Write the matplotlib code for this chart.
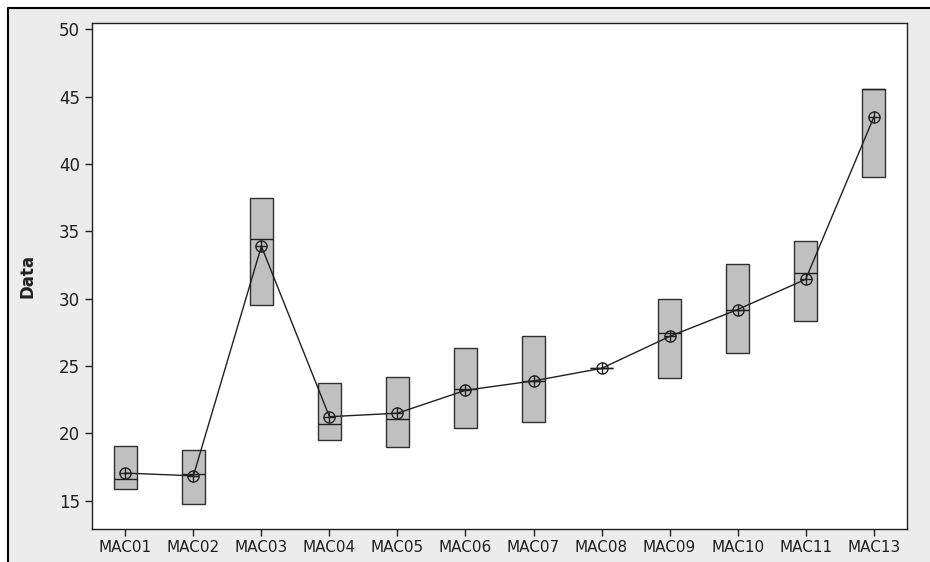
#!/usr/bin/env python3
"""Minitab-style boxplot of the MAC groups with connected means."""

import matplotlib

matplotlib.use("Agg")
import matplotlib.pyplot as plt
from matplotlib.lines import Line2D
from matplotlib.patches import Rectangle

groups = ["MAC01", "MAC02", "MAC03", "MAC04", "MAC05", "MAC06",
          "MAC07", "MAC08", "MAC09", "MAC10", "MAC11", "MAC13"]
q1 = [15.9, 14.75, 29.5, 19.5, 19.0, 20.37, 20.87, 24.83, 24.13, 26.0, 28.36, 39.05]
q3 = [19.06, 18.76, 37.5, 23.76, 24.2, 26.36, 27.25, 24.83, 29.97, 32.6, 34.28, 45.6]
medians = [16.6, 17.0, 34.4, 20.67, 21.1, 23.27, 23.9, 24.83, 27.47, 29.2, 31.88, 45.6]
means = [17.05, 16.85, 33.9, 21.24, 21.5, 23.2, 23.9, 24.83, 27.2, 29.2, 31.44, 43.46]

W, H = 930, 562
fig = plt.figure(figsize=(W / 100, H / 100), dpi=100)
fig.patch.set_facecolor("white")

# grey frame with a black border on the top and left (image is cropped)
fig.patches.append(Rectangle((8 / W, 0), 1, 1 - 8 / H, transform=fig.transFigure,
                             facecolor="#ececec", edgecolor="none", zorder=-10))
fig.lines.append(Line2D([8 / W, 8 / W, 1], [0, 1 - 8 / H, 1 - 8 / H],
                        transform=fig.transFigure, color="black", lw=1.5))

ax = fig.add_axes([92 / W, 33 / H, (907 - 92) / W, (529 - 22.7) / H])
ax.set_facecolor("white")

x = list(range(len(groups)))
heights = [b - a for a, b in zip(q1, q3)]
bw = 0.33
ax.bar(x, heights, bottom=q1, width=bw, color="#c0c0c0",
       edgecolor="#303030", linewidth=1.0, zorder=2)
ax.hlines(medians, [i - bw / 2 for i in x], [i + bw / 2 for i in x],
          color="#202020", linewidth=1.0, zorder=3)

ax.plot(x, means, color="#202020", linewidth=1.0, zorder=4)
ax.plot(x, means, linestyle="none", marker="o", ms=8, mfc="none",
        mec="#202020", mew=1.0, zorder=5)
ax.plot(x, means, linestyle="none", marker="+", ms=8, mec="#202020",
        mew=1.0, zorder=5)

ax.set_xlim(-0.49, len(groups) - 0.51)
ax.set_ylim(12.9, 50.5)
ax.set_yticks([15, 20, 25, 30, 35, 40, 45, 50])
ax.set_xticks(x)
ax.set_xticklabels(groups, fontsize=11)
ax.tick_params(axis="y", labelsize=12, length=5, width=1, colors="#202020")
ax.tick_params(axis="x", length=5, width=1, colors="#202020", pad=3)
for s in ax.spines.values():
    s.set_color("#202020")
    s.set_linewidth(1.0)

fig.text(27 / W, 1 - 276 / H, "Data", rotation=90, ha="center", va="center",
         fontsize=12, fontweight="bold", color="#202020")

fig.savefig("out.png", dpi=100, facecolor=fig.get_facecolor())
